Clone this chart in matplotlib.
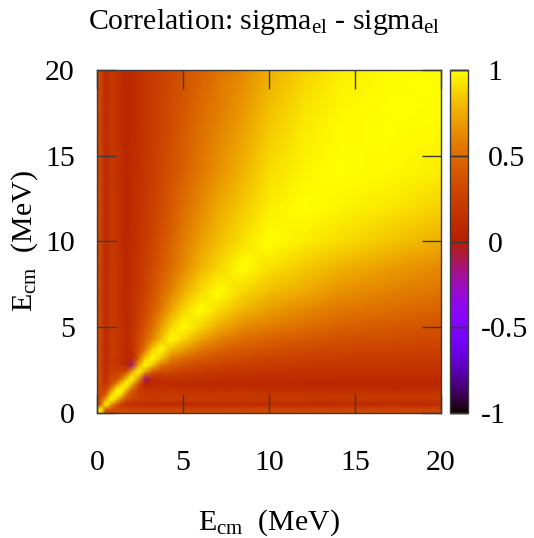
import numpy as np
import matplotlib
matplotlib.use("Agg")
import matplotlib.pyplot as plt
from matplotlib.transforms import ScaledTranslation

plt.rcParams['font.family'] = ['Liberation Serif', 'DejaVu Serif']
plt.rcParams['mathtext.fontset'] = 'custom'
plt.rcParams['mathtext.rm'] = 'Liberation Serif'
plt.rcParams['mathtext.it'] = 'Liberation Serif:italic'

# energy grid (MeV) of the covariance matrix
energies = [0, 0.2, 0.5, 0.8, 1.1, 1.4, 1.7, 2.0, 2.4, 2.8, 3.2, 3.7, 4.3,
            5, 6, 7, 8.5, 10, 12, 14, 17, 20]

# lower triangle of the correlation matrix, row i holds columns 0..i
corr_rows = [
    [1],
    [0.9, 1],
    [0.35, 0.4, 1],
    [0.3, 0.35, 0.7, 1],
    [0.3, 0.3, 0.4, 0.85, 1],
    [0.3, 0.3, 0.25, 0.55, 0.9, 1],
    [0.3, 0.3, 0.15, 0.35, 0.55, 0.85, 1],
    [0.3, 0.3, 0.12, 0.3, 0.35, 0.5, 0.8, 1],
    [0.3, 0.3, 0.12, 0.25, 0.25, 0.3, 0.35, 0.7, 1],
    [0.3, 0.3, 0.1, 0.22, 0.2, 0.15, 0.05, -0.15, 0.7, 1],
    [0.3, 0.3, 0.1, 0.22, 0.2, 0.15, 0.1, 0.1, 0.4, 0.85, 1],
    [0.3, 0.3, 0.1, 0.22, 0.22, 0.15, 0.1, 0.13, 0.32, 0.55, 0.85, 1],
    [0.3, 0.3, 0.1, 0.22, 0.22, 0.15, 0.1, 0.15, 0.3, 0.45, 0.6, 0.8, 1],
    [0.3, 0.3, 0.1, 0.22, 0.2, 0.15, 0.1, 0.15, 0.25, 0.38, 0.5, 0.7, 0.88, 1],
    [0.3, 0.3, 0.1, 0.22, 0.2, 0.14, 0.09, 0.14, 0.22, 0.32, 0.42, 0.55, 0.72, 0.88, 1],
    [0.3, 0.3, 0.1, 0.22, 0.2, 0.13, 0.08, 0.13, 0.2, 0.28, 0.36, 0.47, 0.6, 0.75, 0.9, 1],
    [0.3, 0.3, 0.1, 0.21, 0.2, 0.13, 0.08, 0.12, 0.18, 0.25, 0.32, 0.4, 0.5, 0.62, 0.78, 0.88, 1],
    [0.3, 0.3, 0.1, 0.21, 0.19, 0.12, 0.08, 0.12, 0.17, 0.23, 0.28, 0.36, 0.45, 0.57, 0.7, 0.8, 0.92, 1],
    [0.3, 0.3, 0.1, 0.21, 0.19, 0.12, 0.07, 0.11, 0.16, 0.21, 0.26, 0.32, 0.4, 0.5, 0.62, 0.74, 0.85, 0.95, 1],
    [0.3, 0.3, 0.1, 0.2, 0.18, 0.12, 0.07, 0.11, 0.15, 0.2, 0.24, 0.3, 0.36, 0.45, 0.55, 0.65, 0.78, 0.9, 0.97, 1],
    [0.3, 0.3, 0.1, 0.2, 0.18, 0.11, 0.07, 0.1, 0.14, 0.19, 0.23, 0.28, 0.33, 0.4, 0.5, 0.58, 0.7, 0.83, 0.93, 0.98, 1],
    [0.3, 0.3, 0.1, 0.2, 0.18, 0.11, 0.07, 0.1, 0.14, 0.18, 0.22, 0.26, 0.31, 0.36, 0.45, 0.53, 0.63, 0.75, 0.87, 0.95, 0.99, 1],
]

axis_ticks = [0, 5, 10, 15, 20]
cb_ticks = [-1, -0.5, 0, 0.5, 1]
cb_labels = ['-1', '-0.5', '0', '0.5', '1']

# build the full symmetric matrix
n = len(energies)
corr = np.zeros((n, n))
for i, row in enumerate(corr_rows):
    for j, v in enumerate(row):
        corr[i, j] = v
        corr[j, i] = v

W, H = 534, 538
fs = 21.5
fig = plt.figure(figsize=(W / 100, H / 100), dpi=100)
ax = fig.add_axes([97 / W, 1 - 413 / H, 344 / W, 343 / H])
cax = fig.add_axes([450 / W, 1 - 413 / H, 18 / W, 343 / H])

frame = '#3a3a3a'
X, Y = np.meshgrid(energies, energies)
mesh = ax.pcolormesh(X, Y, corr, cmap='gnuplot', vmin=-1, vmax=1,
                     shading='gouraud', rasterized=True)
ax.set_xlim(0, 20)
ax.set_ylim(0, 20)
ax.set_xticks(axis_ticks)
ax.set_yticks(axis_ticks)
ax.tick_params(direction='in', length=13.5, width=1, color=frame,
               top=True, right=True, labelsize=fs)
ax.tick_params(axis='x', pad=26.5)
ax.tick_params(axis='y', pad=16)
for s in ax.spines.values():
    s.set_color(frame)
    s.set_linewidth(1)

cb = fig.colorbar(mesh, cax=cax, ticks=cb_ticks)
cb.ax.set_yticklabels(cb_labels)
cb.outline.set_edgecolor(frame)
cb.outline.set_linewidth(1)
cax.tick_params(direction='in', length=13, width=1, color=frame,
                left=True, right=True, labelsize=fs, pad=14)
# negative labels sit a bit further left, as in the original
for lab, v in zip(cax.get_yticklabels(), cb_ticks):
    if v < 0:
        lab.set_transform(lab.get_transform() +
                          ScaledTranslation(-7 / 100, 0, fig.dpi_scale_trans))

fig.text(264 / W, 1 - 29 / H,
         r'Correlation: sigma$_{\rm el}$ - sigma$_{\rm el}$',
         ha='center', va='baseline', fontsize=fs)
fig.text(269 / W, 1 - 530 / H, r'E$_{\rm cm}$  (MeV)',
         ha='center', va='baseline', fontsize=fs)
fig.text(32 / W, 1 - 241 / H, r'E$_{\rm cm}$  (MeV)', rotation=90,
         rotation_mode='anchor', ha='center', va='baseline', fontsize=fs)

fig.savefig('out.png', dpi=100)
